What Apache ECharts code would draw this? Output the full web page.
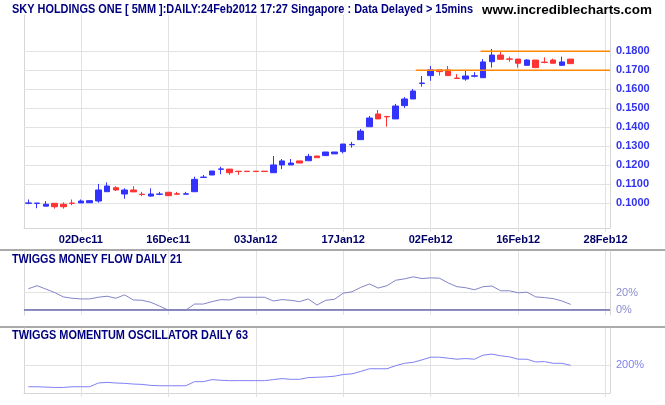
<!DOCTYPE html>
<html><head><meta charset="utf-8">
<script src="https://cdn.jsdelivr.net/npm/echarts@6/dist/echarts.min.js"></script>
<style>html,body{margin:0;padding:0;background:#fff}#c{width:665px;height:405px}</style>
</head><body><div id="c"></div>
<script>
const dates = ['24Nov11','25Nov11','28Nov11','29Nov11','30Nov11','01Dec11','02Dec11','05Dec11','06Dec11','07Dec11','08Dec11','09Dec11','12Dec11','13Dec11','14Dec11','15Dec11','16Dec11','19Dec11','20Dec11','21Dec11','22Dec11','23Dec11','27Dec11','28Dec11','29Dec11','30Dec11','03Jan12','04Jan12','05Jan12','06Jan12','09Jan12','10Jan12','11Jan12','12Jan12','13Jan12','16Jan12','17Jan12','18Jan12','19Jan12','20Jan12','25Jan12','26Jan12','27Jan12','30Jan12','31Jan12','01Feb12','02Feb12','03Feb12','06Feb12','07Feb12','08Feb12','09Feb12','10Feb12','13Feb12','14Feb12','15Feb12','16Feb12','17Feb12','20Feb12','21Feb12','22Feb12','23Feb12','24Feb12'];
const futureSlots = ['25Feb12','26Feb12','27Feb12','28Feb12'];
const tickLabels = ['02Dec11','16Dec11','03Jan12','17Jan12','02Feb12','16Feb12','28Feb12'];

const opens  = [0.1000,0.1000,0.0985,0.1000,0.0995,0.1001,0.1002,0.1003,0.1012,0.1061,0.1082,0.1049,0.1070,0.1048,0.1038,0.1047,0.1058,0.1050,0.1048,0.1061,0.1136,0.1149,0.1179,0.1180,0.1169,0.1169,0.1169,0.1169,0.1161,0.1202,0.1202,0.1223,0.1224,0.1249,0.1251,0.1260,0.1272,0.1308,0.1335,0.1403,0.1470,0.1457,0.1444,0.1514,0.1549,0.1631,0.1672,0.1702,0.1702,0.1659,0.1654,0.1669,0.1661,0.1745,0.1780,0.1760,0.1759,0.1726,0.1754,0.1743,0.1754,0.1726,0.1759];
const closes = [0.1002,0.1001,0.0995,0.0982,0.0982,0.1000,0.1012,0.1014,0.1070,0.1091,0.1070,0.1070,0.1060,0.1046,0.1049,0.1049,0.1040,0.1048,0.1050,0.1126,0.1138,0.1170,0.1181,0.1161,0.1167,0.1167,0.1167,0.1167,0.1202,0.1223,0.1212,0.1212,0.1247,0.1240,0.1270,0.1270,0.1312,0.1310,0.1380,0.1449,0.1444,0.1455,0.1512,0.1549,0.1591,0.1633,0.1702,0.1693,0.1672,0.1657,0.1670,0.1671,0.1744,0.1780,0.1758,0.1758,0.1737,0.1754,0.1714,0.1741,0.1737,0.1744,0.1735];
const lows   = [0.0995,0.0974,0.0985,0.0972,0.0972,0.0990,0.1002,0.1003,0.1003,0.1061,0.1065,0.1024,0.1060,0.1038,0.1035,0.1043,0.1040,0.1044,0.1048,0.1061,0.1136,0.1149,0.1153,0.1150,0.1150,0.1167,0.1167,0.1167,0.1161,0.1180,0.1202,0.1212,0.1224,0.1240,0.1251,0.1260,0.1263,0.1293,0.1335,0.1403,0.1444,0.1403,0.1444,0.1502,0.1549,0.1614,0.1645,0.1672,0.1672,0.1657,0.1645,0.1663,0.1661,0.1714,0.1758,0.1745,0.1714,0.1726,0.1714,0.1737,0.1737,0.1726,0.1735];
const highs  = [0.1020,0.1001,0.1012,0.1000,0.1005,0.1020,0.1020,0.1016,0.1102,0.1110,0.1090,0.1079,0.1090,0.1060,0.1079,0.1060,0.1058,0.1060,0.1060,0.1140,0.1149,0.1170,0.1192,0.1180,0.1169,0.1169,0.1169,0.1169,0.1249,0.1233,0.1233,0.1223,0.1260,0.1249,0.1270,0.1270,0.1312,0.1323,0.1391,0.1460,0.1491,0.1460,0.1523,0.1559,0.1602,0.1670,0.1723,0.1702,0.1723,0.1680,0.1702,0.1690,0.1759,0.1812,0.1798,0.1772,0.1759,0.1759,0.1754,0.1768,0.1761,0.1772,0.1759];

const moneyFlow = [24.4,28,24,20,14.8,13.2,12.4,12.4,14.4,15.6,13.2,17.2,11.2,10.8,8.4,4,-0.8,-0.8,-0.8,6.4,6.4,9.2,11.6,11.2,14.4,14.4,14.4,14.4,10,11.6,10.8,9.2,12.4,5.2,10.8,12,19.2,20.8,26,30,25.2,28,34.4,36,38.4,36.4,37.2,36.8,31.2,26.8,25.6,23.2,26.8,27.6,22,22,19.6,20.4,14.8,14,12.8,10,6];
const momentum = [156.5,156.5,155.8,155.1,155.1,156.5,156.5,156.5,164.0,165.3,164.0,163.3,161.9,161.2,159.2,158.5,158.5,158.5,158.5,166.7,166.7,170.8,169.4,168.7,168.7,168.7,168.7,168.7,170.8,172.8,171.4,171.4,174.8,175.5,176.2,177.6,181.0,182.3,187.1,192.5,192.5,192.5,198.6,203.4,205.4,210.2,215.6,215.6,213.6,211.6,212.9,211.6,219.7,221.8,218.4,216.3,211.6,211.6,206.1,206.8,203.4,203.4,199.3];

const priceTicks = [0.10,0.11,0.12,0.13,0.14,0.15,0.16,0.17,0.18];
const moneyFlowTicks = [20, 0];
const momentumTicks = [200];
const resistance = {level: 0.18, fromSlot: 51.7};
const support = {level: 0.17, fromSlot: 44.3};

const titleText = 'SKY HOLDINGS ONE [ 5MM ]:DAILY:24Feb2012 17:27 Singapore : Data Delayed > 15mins';
const siteText = 'www.incrediblecharts.com';
const mfTitle = 'TWIGGS MONEY FLOW DAILY 21';
const momTitle = 'TWIGGS MOMENTUM OSCILLATOR DAILY 63';

const cats = dates.concat(futureSlots);
const lastSlot = cats.length - 0.5;
const isTick = (i, v) => tickLabels.indexOf(v) >= 0;

const SANS = '"Liberation Sans",Arial,sans-serif';
const GRID_C = '#e2e2e2', BORDER_C = '#d6d6d6';
const UP = '#3333ff', DOWN = '#ff3333';

const mctx = document.createElement('canvas').getContext('2d');
function fitScale(text, font, width) {
  mctx.font = font;
  return width / mctx.measureText(text).width;
}
function headText(text, font, x, y, width, fill, align) {
  return {type: 'text', x, y, scaleX: fitScale(text, font, width), z: 10,
    style: {text, fill, font, align: align || 'left', verticalAlign: 'middle'}};
}

function catAxis(gridIndex, showLabels) {
  return {
    type: 'category', gridIndex, data: cats, boundaryGap: true,
    axisLine: {show: true, lineStyle: {color: BORDER_C}},
    axisTick: {show: true, alignWithLabel: true, interval: isTick, length: 4, lineStyle: {color: GRID_C}},
    axisLabel: {show: showLabels, interval: isTick, color: '#000066', fontWeight: 'bold', fontSize: 11, fontFamily: SANS, margin: 6},
    splitLine: {show: true, interval: isTick, alignWithLabel: true, lineStyle: {color: GRID_C}}
  };
}
function borderAxis(gridIndex, position, min, max) {
  return {type: 'value', gridIndex, position, min, max,
    axisLine: {show: true, onZero: false, lineStyle: {color: BORDER_C}},
    axisTick: {show: false}, axisLabel: {show: false}, splitLine: {show: false}};
}

const HF = 'bold 12px ' + SANS;
const chart = echarts.init(document.getElementById('c'), null, {renderer: 'canvas'});
chart.setOption({
  animation: false,
  backgroundColor: '#fff',
  grid: [
    {left: 24, right: 55, top: 15, bottom: 177},
    {left: 24, right: 55, top: 251, bottom: 90},
    {left: 24, right: 55, top: 328, bottom: 12}
  ],
  xAxis: [
    catAxis(0, true),
    {type: 'value', gridIndex: 0, min: -0.5, max: lastSlot, show: false},
    catAxis(1, false),
    catAxis(2, false)
  ],
  yAxis: [
    borderAxis(0, 'right', 0.0870, 0.1991),
    borderAxis(0, 'left', 0.0870, 0.1991),
    borderAxis(1, 'right', -6.5, 68.8),
    borderAxis(1, 'left', -6.5, 68.8),
    borderAxis(2, 'right', 144, 274),
    borderAxis(2, 'left', 144, 274)
  ],
  graphic: [
    headText(titleText, HF, 12, 10, 461, '#000080'),
    headText(siteText, 'bold 13px ' + SANS, 482, 10, 170, '#000000'),
    {type: 'line', shape: {x1: 0, y1: 250, x2: 665, y2: 250}, style: {stroke: '#aaa', lineWidth: 2}},
    {type: 'line', shape: {x1: 0, y1: 327, x2: 665, y2: 327}, style: {stroke: '#aaa', lineWidth: 2}},
    headText(mfTitle, HF, 12, 260, 170, '#000080'),
    headText(momTitle, HF, 12, 336, 236, '#000080')
  ],
  series: [
    {
      type: 'candlestick', xAxisIndex: 0, yAxisIndex: 0, barWidth: 6,
      data: dates.map((d, i) => [opens[i], closes[i], lows[i], highs[i]]),
      itemStyle: {color: UP, color0: DOWN, borderColor: UP, borderColor0: DOWN, borderWidth: 1},
      markLine: {
        silent: true, symbol: 'none', z: 1,
        lineStyle: {color: GRID_C, type: 'solid', width: 1},
        label: {position: 'end', distance: 6, color: '#3333ee', fontWeight: 'bold', fontSize: 11, fontFamily: SANS,
          formatter: p => p.value.toFixed(4)},
        data: priceTicks.map(v => ({yAxis: v}))
      }
    },
    {
      type: 'line', xAxisIndex: 1, yAxisIndex: 0, symbol: 'none', silent: true,
      data: [[resistance.fromSlot, resistance.level], [lastSlot, resistance.level]],
      lineStyle: {color: '#ff8800', width: 1.5}, z: 3
    },
    {
      type: 'line', xAxisIndex: 1, yAxisIndex: 0, symbol: 'none', silent: true,
      data: [[support.fromSlot, support.level], [lastSlot, support.level]],
      lineStyle: {color: '#ff8800', width: 1.5}, z: 3
    },
    {
      type: 'line', xAxisIndex: 2, yAxisIndex: 2, symbol: 'none', silent: true,
      data: moneyFlow, lineStyle: {color: '#8484c8', width: 1},
      markLine: {
        silent: true, symbol: 'none', z: 1,
        label: {position: 'end', distance: 6, color: '#8c8cd0', fontSize: 11, fontFamily: SANS, formatter: p => p.value + '%'},
        data: moneyFlowTicks.map(v => ({yAxis: v, lineStyle: {color: v === 0 ? '#6a6ab0' : GRID_C, type: 'solid', width: v === 0 ? 1.5 : 1}}))
      }
    },
    {
      type: 'line', xAxisIndex: 3, yAxisIndex: 4, symbol: 'none', silent: true,
      data: momentum, lineStyle: {color: '#8080f8', width: 1},
      markLine: {
        silent: true, symbol: 'none', z: 1,
        lineStyle: {color: GRID_C, type: 'solid', width: 1},
        label: {position: 'end', distance: 6, color: '#8080f0', fontSize: 11, fontFamily: SANS, formatter: p => p.value + '%'},
        data: momentumTicks.map(v => ({yAxis: v}))
      }
    }
  ]
});
</script></body></html>
